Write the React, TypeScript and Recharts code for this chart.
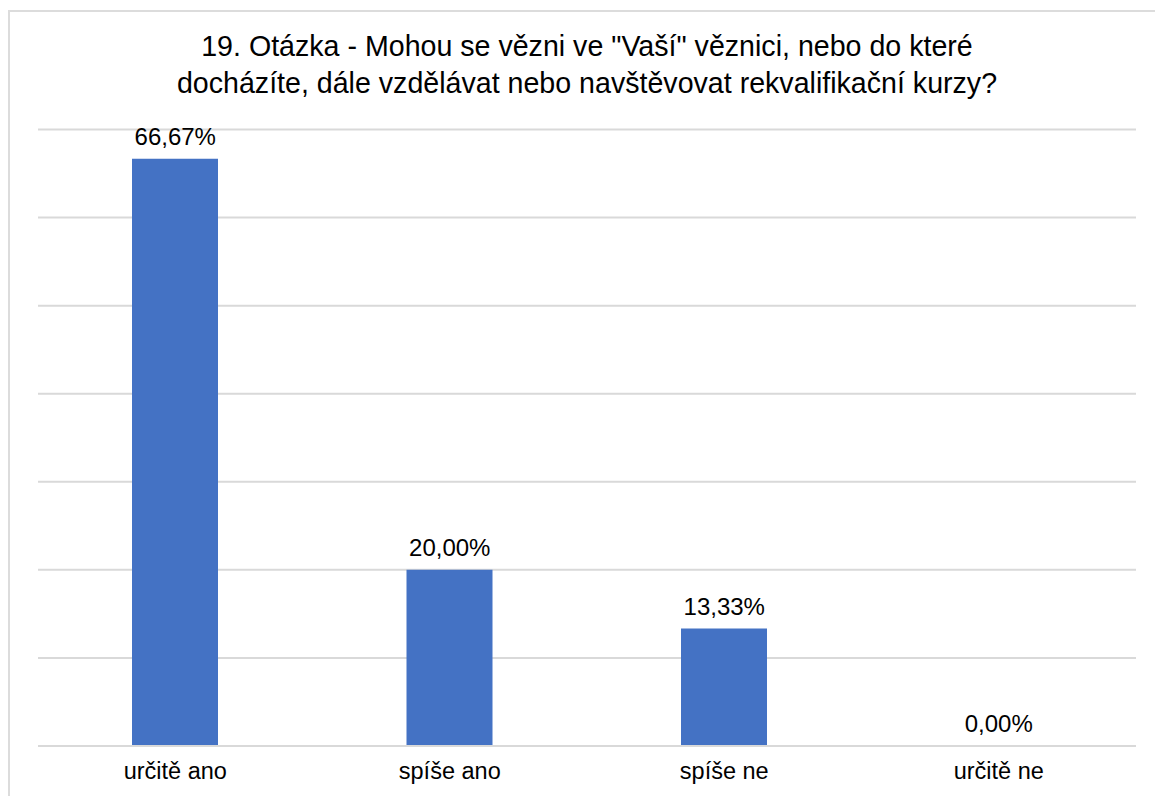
import React from 'react';
import { BarChart, Bar, XAxis, YAxis, CartesianGrid, ReferenceDot } from 'recharts';

const categories = ['určitě ano', 'spíše ano', 'spíše ne', 'určitě ne'];
const shares = [66.67, 20.0, 13.33, 0.0];
const yTicks = [0, 10, 20, 30, 40, 50, 60, 70];

const titleLines = [
  '19. Otázka - Mohou se vězni ve "Vaší" věznici, nebo do které',
  'docházíte, dále vzdělávat nebo navštěvovat rekvalifikační kurzy?',
];

const data = categories.map((name, i) => ({ name, value: shares[i] }));

const fmt = (v: number) => Number(v).toFixed(2).replace('.', ',') + '%';

const font = '"Liberation Sans", Arial, sans-serif';

export default function App() {
  return (
    <div style={{ position: 'absolute', left: 0, top: 0, width: 1155, height: 796, overflow: 'hidden', background: '#fff', fontFamily: font }}>
      {/* chart frame, only top and left edges are visible */}
      <div
        style={{
          position: 'absolute',
          left: 8,
          top: 10,
          width: 1200,
          height: 900,
          borderTop: '2px solid #dcdcdc',
          borderLeft: '2px solid #dcdcdc',
        }}
      />
      <div
        style={{
          position: 'absolute',
          left: 0,
          width: 1174,
          top: 28,
          textAlign: 'center',
          fontSize: 28.6,
          lineHeight: '37px',
          color: '#000',
        }}
      >
        {titleLines.map((l) => (
          <div key={l}>{l}</div>
        ))}
      </div>
      <div style={{ position: 'absolute', left: 0, top: 0 }}>
        <BarChart
          width={1155}
          height={796}
          data={data}
          margin={{ top: 129.5, right: 19, bottom: 20, left: 38 }}
        >
          <CartesianGrid vertical={false} stroke="#d9d9d9" strokeWidth={2} />
          <YAxis hide domain={[0, 70]} ticks={yTicks} />
          <XAxis
            dataKey="name"
            height={30}
            axisLine={{ stroke: '#d9d9d9', strokeWidth: 2 }}
            tickLine={false}
            tickMargin={10}
            tick={{ fill: '#000', fontSize: 23.5, fontFamily: font }}
          />
          <Bar dataKey="value" fill="#4472c4" barSize={86} isAnimationActive={false} />
          {/* value labels, also for the 0 % bar which has no rectangle */}
          {data.map((d) => (
            <ReferenceDot
              key={d.name}
              x={d.name}
              y={d.value}
              r={0}
              fill="none"
              stroke="none"
              label={{
                value: fmt(d.value),
                position: 'top',
                offset: 14,
                fill: '#000',
                fontSize: 24,
                fontFamily: font,
              }}
            />
          ))}
        </BarChart>
      </div>
    </div>
  );
}
